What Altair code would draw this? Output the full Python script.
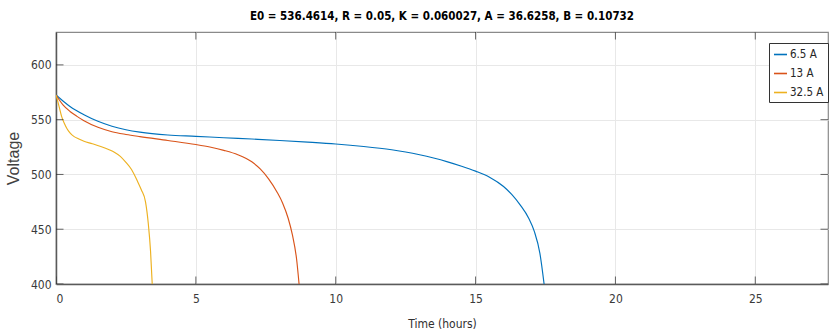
import altair as alt
import pandas as pd

# ---- data ----
t_65 = [0, 0.25, 0.5, 1.0, 1.5, 2.0, 2.5, 3.0, 4.0, 5.0, 6.0, 7.0, 8.0, 9.0, 10.0, 11.0,
        12.0, 12.5, 13.0, 13.5, 14.0, 14.5, 15.0, 15.5, 16.0, 16.3, 16.6, 16.9, 17.1, 17.3, 17.45]
v_65 = [572.5, 567, 562, 554.5, 548.5, 544, 540.8, 538.6, 536, 534.8, 533.5, 532.3, 531, 529.5,
        527.8, 525.5, 522.5, 520.5, 518, 515, 511.5, 507.5, 503, 497.5, 489, 481.5, 472, 460,
        448, 428, 400]

t_13 = [0, 0.25, 0.5, 0.75, 1.0, 1.5, 2.0, 2.5, 3.0, 4.0, 5.0, 5.5, 6.0, 6.5, 7.0, 7.3, 7.6,
        7.9, 8.1, 8.3, 8.45, 8.6, 8.69]
v_13 = [572.5, 563.5, 557.5, 553, 549, 543, 539, 536.5, 534.5, 531, 527.3, 525, 522, 518,
        511.5, 505, 496, 484, 474, 460, 445, 423, 400]

t_325 = [0, 0.05, 0.1, 0.2, 0.3, 0.4, 0.5, 0.65, 0.8, 1.0, 1.3, 1.6, 1.9, 2.1, 2.3, 2.5, 2.7,
         2.9, 3.05, 3.2, 3.3, 3.38, 3.44]
v_325 = [572.5, 568, 563, 553, 546.5, 541.5, 538, 534.5, 532.5, 530.3, 528, 525.5, 522.5, 520,
         516.5, 511, 504.5, 494.5, 486, 475, 455, 430, 400]

series_names = ["6.5 A", "13 A", "32.5 A"]
series_colors = ["#0072BD", "#D95319", "#EDB120"]

x_ticks = [0, 5, 10, 15, 20, 25]
y_ticks = [400, 450, 500, 550, 600]
x_range = [0, 27.6]
y_range = [400, 630]

title_text = "E0 = 536.4614, R = 0.05, K = 0.060027, A = 36.6258, B = 0.10732"

# ---- tables ----
rows = []
for name, ts, vs in zip(series_names, [t_65, t_13, t_325], [v_65, v_13, v_325]):
    for i, (t, v) in enumerate(zip(ts, vs)):
        rows.append({"series": name, "t": t, "v": v, "i": i})
df = pd.DataFrame(rows)

xt_bottom = pd.DataFrame({"t": x_ticks, "v": [y_range[0]] * len(x_ticks)})
xt_top = pd.DataFrame({"t": x_ticks, "v": [y_range[1]] * len(x_ticks)})
yt_left = pd.DataFrame({"t": [x_range[0]] * len(y_ticks), "v": y_ticks})
yt_right = pd.DataFrame({"t": [x_range[1]] * len(y_ticks), "v": y_ticks})

NARROW = "Liberation Sans Narrow, DejaVu Sans Condensed, sans-serif"

xscale = alt.Scale(domain=x_range, nice=False, zero=False)
yscale = alt.Scale(domain=y_range, nice=False, zero=False)

lines = alt.Chart(df).mark_line(strokeWidth=1.15, interpolate="monotone", clip=True).encode(
    x=alt.X("t:Q", scale=xscale,
            axis=alt.Axis(title="Time (hours)", values=x_ticks, ticks=False, labelPadding=9,
                          titlePadding=14, grid=True, format="d")),
    y=alt.Y("v:Q", scale=yscale,
            axis=alt.Axis(title="Voltage", values=y_ticks, ticks=False, labelPadding=5,
                          titlePadding=9, grid=True, format="d")),
    color=alt.Color("series:N",
                    scale=alt.Scale(domain=series_names, range=series_colors),
                    legend=alt.Legend(title=None, orient="none", legendX=713, legendY=11,
                                      symbolType="stroke", symbolSize=170, symbolStrokeWidth=1.6,
                                      labelFont=NARROW, labelFontSize=11.5, labelColor="#262626",
                                      strokeColor="#333333", fillColor="white", padding=4,
                                      rowPadding=6, labelOffset=2)),
    order="i:Q",
)

tick_color = "#262626"
tb = alt.Chart(xt_bottom).mark_tick(orient="vertical", size=15, thickness=1, color=tick_color,
                                    clip=True).encode(x=alt.X("t:Q", scale=xscale), y=alt.Y("v:Q", scale=yscale))
tt = alt.Chart(xt_top).mark_tick(orient="vertical", size=15, thickness=1, color=tick_color,
                                 clip=True).encode(x=alt.X("t:Q", scale=xscale), y=alt.Y("v:Q", scale=yscale))
tl = alt.Chart(yt_left).mark_tick(orient="horizontal", size=15, thickness=1, color=tick_color,
                                  clip=True).encode(x=alt.X("t:Q", scale=xscale), y=alt.Y("v:Q", scale=yscale))
tr = alt.Chart(yt_right).mark_tick(orient="horizontal", size=15, thickness=1, color=tick_color,
                                   clip=True).encode(x=alt.X("t:Q", scale=xscale), y=alt.Y("v:Q", scale=yscale))

chart = alt.layer(lines, tb, tt, tl, tr).properties(
    width=772,
    height=252,
    title=alt.TitleParams(title_text, font=NARROW, fontSize=11.5, fontWeight="bold",
                          color="#000000", anchor="middle", offset=10),
    autosize=alt.AutoSizeParams(type="none"),
    padding={"left": 56, "top": 32, "right": 5, "bottom": 50},
    background="white",
).configure_view(
    stroke="#8a8a8a", strokeWidth=1.2
).configure_axis(
    gridColor="#e8e8e8", gridWidth=1,
    domainColor="#5a5a5a", domainWidth=1.5,
    labelFont=NARROW, labelFontSize=12, labelColor="#3a3a3a",
    titleFont=NARROW, titleFontSize=12, titleColor="#303030", titleFontWeight="normal",
).configure_axisY(
    titleFont="Liberation Sans, Arial, sans-serif", titleFontSize=16, titleColor="#404040",
)

chart.save("out.html", embed_options={"renderer": "svg", "actions": False})
